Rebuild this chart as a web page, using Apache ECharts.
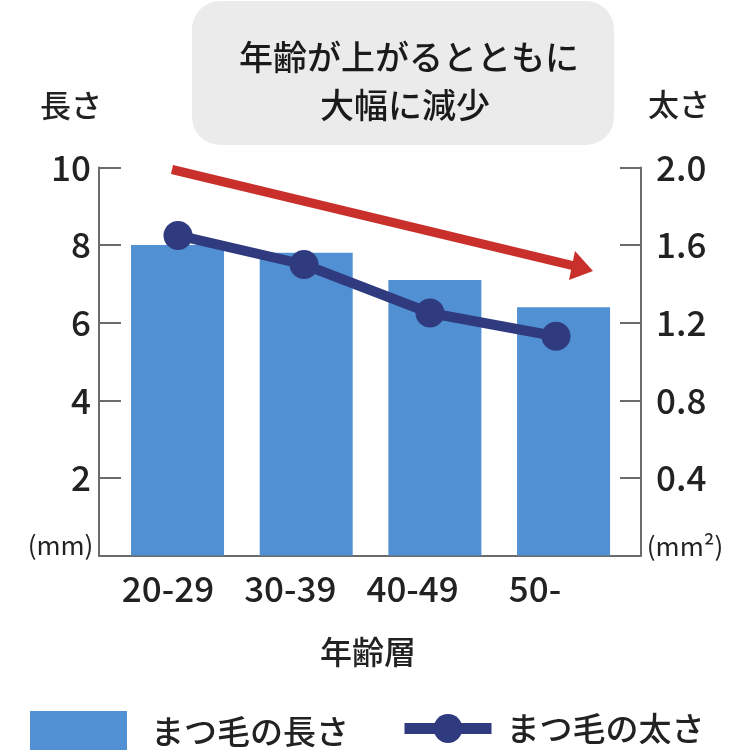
<!DOCTYPE html>
<html>
<head>
<meta charset="utf-8">
<script src="https://cdn.jsdelivr.net/npm/echarts@6/dist/echarts.min.js"></script>
<style>html,body{margin:0;padding:0;background:#fff}#c{width:750px;height:750px}</style>
</head>
<body>
<div id="c"></div>
<script>
var categories = ['20-29', '30-39', '40-49', '50-'];
var lengthValues = [8.0, 7.8, 7.1, 6.4];
var thicknessValues = [1.65, 1.50, 1.25, 1.13];
var leftTicks = {min: 0, max: 10, interval: 2};
var rightTicks = {min: 0, max: 2, interval: 0.4};
var lengthName = 'まつ毛の長さ';
var thicknessName = 'まつ毛の太さ';

var FONT = '"Noto Sans CJK JP", "Noto Sans", sans-serif';
var TXT = '#222222';
var AX = '#6b6b6b';
var LINEC = '#2f3b7e';
var TOP = 167.5, H = 388;

var chart = echarts.init(document.getElementById('c'));
var hiddenY = function (g, r) {
  return {type: 'value', gridIndex: g, min: r.min, max: r.max, show: false};
};
var hiddenX = function (g) {
  return {type: 'category', gridIndex: g, data: categories, show: false};
};
chart.setOption({
  animation: false,
  grid: [
    {left: 99, width: 542, top: TOP, height: H},
    {left: 113.2, width: 514.7, top: TOP, height: H},
    {left: 115, width: 504, top: TOP, height: H},
    {left: 106.8, width: 489.3, top: TOP, height: H}
  ],
  xAxis: [
    {type: 'category', gridIndex: 0, data: categories,
      axisLine: {show: true, lineStyle: {color: AX, width: 2}},
      axisTick: {show: false}, axisLabel: {show: false}, splitLine: {show: false}},
    hiddenX(1),
    hiddenX(2),
    {type: 'category', gridIndex: 3, data: categories,
      axisLine: {show: false}, axisTick: {show: false},
      axisLabel: {show: true, color: TXT, fontFamily: FONT, fontSize: 35, fontWeight: 500, margin: 16}}
  ],
  yAxis: [
    {type: 'value', gridIndex: 0, position: 'left', min: leftTicks.min, max: leftTicks.max, interval: leftTicks.interval,
      axisLine: {show: true, lineStyle: {color: AX, width: 2}},
      axisTick: {show: true, inside: true, length: 22, lineStyle: {color: AX, width: 2}},
      splitLine: {show: false},
      axisLabel: {color: TXT, fontFamily: FONT, fontSize: 35, fontWeight: 500, margin: 8,
        formatter: function (v) { return v === 0 ? '' : String(v); }}},
    {type: 'value', gridIndex: 0, position: 'right', min: rightTicks.min, max: rightTicks.max, interval: rightTicks.interval,
      axisLine: {show: true, lineStyle: {color: AX, width: 2}},
      axisTick: {show: true, inside: true, length: 21, lineStyle: {color: AX, width: 2}},
      splitLine: {show: false},
      axisLabel: {color: TXT, fontFamily: FONT, fontSize: 35, fontWeight: 500, margin: 15,
        formatter: function (v) { return v === 0 ? '' : v.toFixed(1); }}},
    hiddenY(1, leftTicks),
    hiddenY(2, rightTicks),
    hiddenY(3, leftTicks)
  ],
  legend: [
    {data: [lengthName], left: 30, top: 711, padding: 0, itemWidth: 97, itemHeight: 40, icon: 'rect',
      selectedMode: false,
      textStyle: {color: TXT, fontFamily: FONT, fontSize: 33, fontWeight: 500, padding: [0, 0, 0, 19]}},
    {data: [thicknessName], left: 399, top: 712, padding: 0, itemWidth: 87, itemHeight: 36,
      selectedMode: false,
      lineStyle: {width: 11, color: LINEC},
      textStyle: {color: TXT, fontFamily: FONT, fontSize: 33, fontWeight: 500, padding: [0, 0, 0, 10]}}
  ],
  series: [
    {name: lengthName, type: 'bar', xAxisIndex: 1, yAxisIndex: 2, data: lengthValues,
      barWidth: 93, itemStyle: {color: '#5190d3'}, z: 2},
    {name: thicknessName, type: 'line', xAxisIndex: 2, yAxisIndex: 3, data: thicknessValues,
      symbol: 'circle', symbolSize: 29, showSymbol: true,
      lineStyle: {color: LINEC, width: 10}, itemStyle: {color: LINEC}, z: 5}
  ],
  graphic: [
    {type: 'rect', shape: {x: 192, y: 1, width: 422, height: 144, r: 28},
      style: {fill: '#ebebeb'}, z: 0},
    {type: 'text', x: 409, y: 57, style: {text: '年齢が上がるとともに', font: '500 34px ' + FONT,
      fill: '#1a1a1a', textAlign: 'center', textVerticalAlign: 'middle'}, z: 10},
    {type: 'text', x: 405, y: 105, style: {text: '大幅に減少', font: '500 34px ' + FONT,
      fill: '#1a1a1a', textAlign: 'center', textVerticalAlign: 'middle'}, z: 10},
    {type: 'line', shape: {x1: 172, y1: 169.5, x2: 574, y2: 265.8},
      style: {stroke: '#c9302b', lineWidth: 9}, z: 10},
    {type: 'polygon', shape: {points: [[575, 251], [593, 271], [569, 280]]},
      style: {fill: '#c9302b'}, z: 10},
    {type: 'text', x: 71, y: 105, style: {text: '長さ', font: '500 31px ' + FONT, fill: TXT,
      textAlign: 'center', textVerticalAlign: 'middle'}, z: 10},
    {type: 'text', x: 679, y: 104, style: {text: '太さ', font: '500 31px ' + FONT, fill: TXT,
      textAlign: 'center', textVerticalAlign: 'middle'}, z: 10},
    {type: 'text', x: 60.5, y: 545, style: {text: '(mm)', font: '400 26px ' + FONT, fill: TXT,
      textAlign: 'center', textVerticalAlign: 'middle'}, z: 10},
    {type: 'text', x: 685, y: 546, style: {text: '(mm²)', font: '400 26px ' + FONT, fill: TXT,
      textAlign: 'center', textVerticalAlign: 'middle'}, z: 10},
    {type: 'text', x: 368, y: 652, style: {text: '年齢層', font: '500 32px ' + FONT, fill: TXT,
      textAlign: 'center', textVerticalAlign: 'middle'}, z: 10}
  ]
});
</script>
</body>
</html>
